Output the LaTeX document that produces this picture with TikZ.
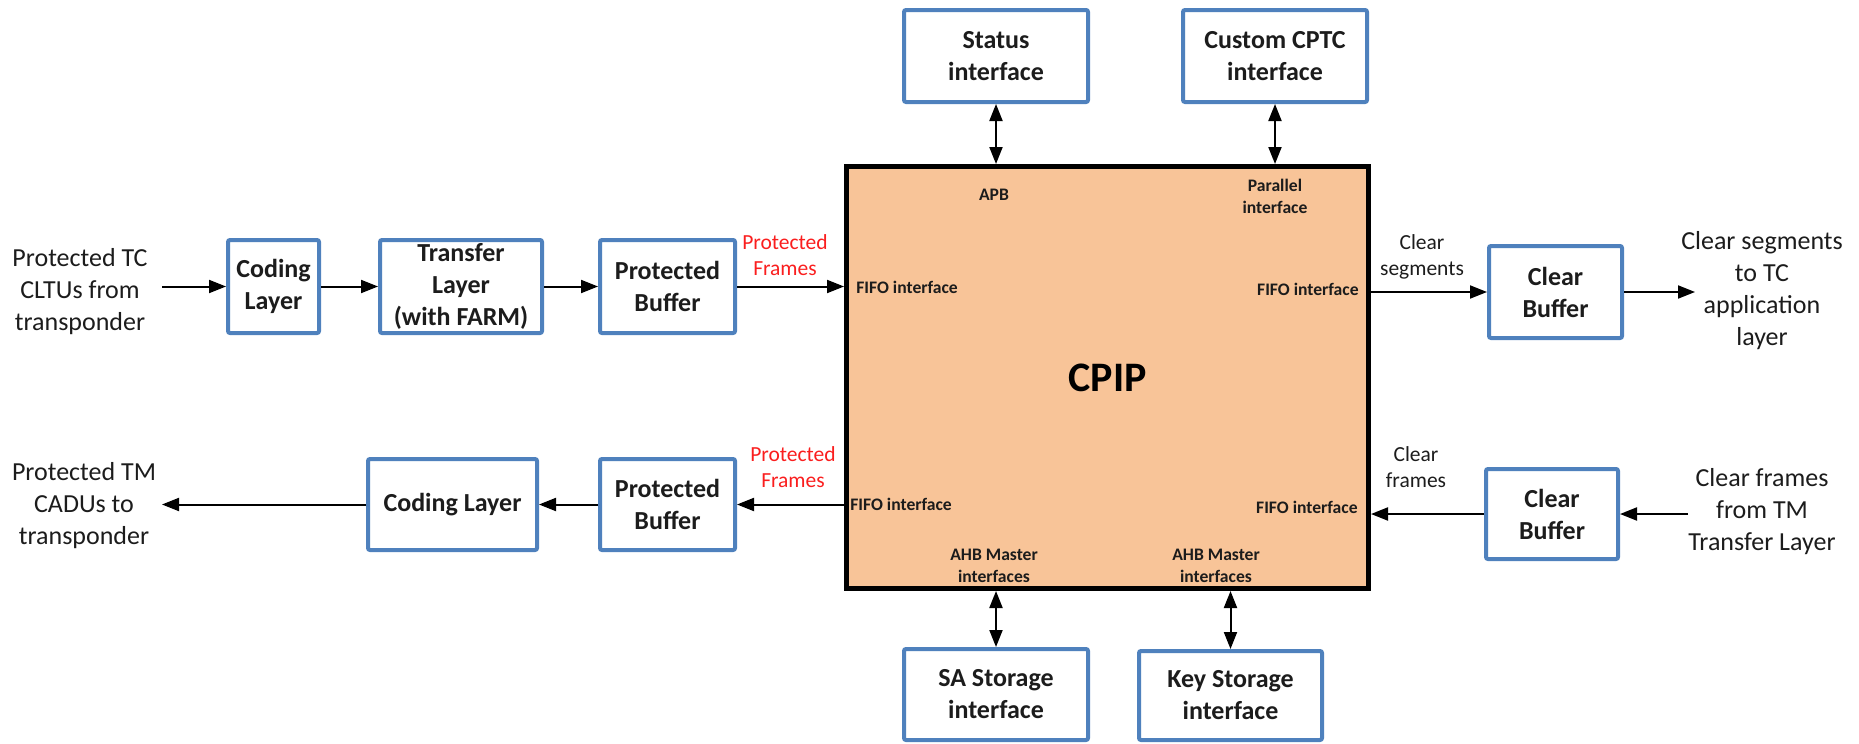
\documentclass[tikz,border=0pt]{standalone}
\usepackage{fontspec}
\setmainfont{Carlito}
\usetikzlibrary{arrows.meta}
\definecolor{boxblue}{RGB}{79,129,189}
\definecolor{cpipfill}{RGB}{248,196,152}
\definecolor{inkgray}{RGB}{28,28,28}
\definecolor{framered}{RGB}{250,30,30}

\begin{document}
\begin{tikzpicture}[x=0.5pt,y=-0.5pt,
  blockbox/.style={draw=boxblue, line width=2pt, fill=white, rounded corners=1pt,
    align=center, inner sep=0pt, text=inkgray,
    font=\bfseries\fontsize{13}{16}\selectfont},
  corebox/.style={draw=black, line width=2.5pt, fill=cpipfill, inner sep=0pt,
    text=black, font=\bfseries\fontsize{21}{25}\selectfont},
  portlabel/.style={align=center, inner sep=0pt, text=inkgray,
    font=\bfseries\fontsize{8.8}{11}\selectfont},
  sidetext/.style={align=center, inner sep=0pt, text=inkgray,
    font=\fontsize{13}{16}\selectfont},
  flowlabel/.style={align=center, inner sep=0pt, text=inkgray,
    font=\fontsize{10.75}{13}\selectfont},
  flow/.style={draw=black, line width=1pt, -{Triangle[length=8.5pt,width=6.5pt]}},
  biflow/.style={draw=black, line width=1pt,
    {Triangle[length=8.5pt,width=6.5pt]}-{Triangle[length=8.5pt,width=6.5pt]}}
]
\useasboundingbox (0,0) rectangle (1859,744);

% central processor block
\node[corebox, minimum width=261pt, minimum height=211pt] (cpip) at (1107.5,377.5) {CPIP};

% interface labels inside the core
\node[portlabel] (apb) at (994,195) {APB};
\node[portlabel] (par) at (1275,196) {Parallel\\interface};
\node[portlabel, anchor=west] (fifoTL) at (856,287) {FIFO interface};
\node[portlabel, anchor=east] (fifoTR) at (1359,289) {FIFO interface};
\node[portlabel, anchor=west] (fifoBL) at (850,504) {FIFO interface};
\node[portlabel, anchor=east] (fifoBR) at (1358,507) {FIFO interface};
\node[portlabel] (ahbL) at (994,566) {AHB Master\\interfaces};
\node[portlabel] (ahbR) at (1216,566) {AHB Master\\interfaces};

% TC receive chain
\node[sidetext] (tcin) at (80,292) {Protected TC\\CLTUs from\\transponder};
\node[blockbox, minimum width=45.5pt, minimum height=46.5pt] (codA) at (273.5,286.5) {Coding\\Layer};
\node[blockbox, minimum width=81pt, minimum height=46.5pt] (transfer) at (461,286.5) {Transfer\\Layer\\(with FARM)};
\node[blockbox, minimum width=67.5pt, minimum height=46.5pt] (pbufA) at (667.5,286.5) {Protected\\Buffer};
\coordinate (tcinR) at (162,286.5);

% TM transmit chain
\node[sidetext] (tmout) at (84,506) {Protected TM\\CADUs to\\transponder};
\node[blockbox, minimum width=84.5pt, minimum height=45.5pt] (codB) at (452.5,504.5) {Coding Layer};
\node[blockbox, minimum width=67.5pt, minimum height=45.5pt] (pbufB) at (667.5,504.5) {Protected\\Buffer};
\coordinate (tmoutR) at (162,504.5);

% clear side
\node[blockbox, minimum width=66.5pt, minimum height=46pt] (cbufA) at (1555.5,292) {Clear\\Buffer};
\node[sidetext] (tcout) at (1762,290.5) {Clear segments\\to TC\\application\\layer};
\coordinate (tcoutL) at (1695,292);
\node[blockbox, minimum width=66pt, minimum height=45pt] (cbufB) at (1552,514) {Clear\\Buffer};
\node[sidetext] (tmin) at (1762,512) {Clear frames\\from TM\\Transfer Layer};
\coordinate (tminL) at (1688,514);

% bus interfaces
\node[blockbox, minimum width=92pt, minimum height=46pt] (status) at (996,56) {Status\\interface};
\node[blockbox, minimum width=92pt, minimum height=46pt] (cptc) at (1275,56) {Custom CPTC\\interface};
\node[blockbox, minimum width=92pt, minimum height=45.5pt] (sa) at (996,694.5) {SA Storage\\interface};
\node[blockbox, minimum width=91.5pt, minimum height=44.5pt] (key) at (1230.5,695.5) {Key Storage\\interface};

% flow labels
\node[flowlabel, text=framered] (pfA) at (785,255.5) {Protected\\Frames};
\node[flowlabel, text=framered] (pfB) at (793,467) {Protected\\Frames};
\node[flowlabel] (csl) at (1422,256.5) {Clear\\segments};
\node[flowlabel] (cfl) at (1416,467) {Clear\\frames};

% connectors: TC path
\draw[flow] (tcinR) -- (codA);
\draw[flow] (codA) -- (transfer);
\draw[flow] (transfer) -- (pbufA);
\draw[flow] (pbufA.east) -- (pbufA.east -| cpip.west);
\draw[flow] (cpip.east |- cbufA.west) -- (cbufA.west);
\draw[flow] (cbufA.east) -- (tcoutL);

% connectors: TM path
\draw[flow] (tminL) -- (cbufB.east);
\draw[flow] (cbufB.west) -- (cbufB.west -| cpip.east);
\draw[flow] (pbufB.east -| cpip.west) -- (pbufB.east);
\draw[flow] (pbufB) -- (codB);
\draw[flow] (codB.west) -- (tmoutR);

% connectors: bus interfaces
\draw[biflow] (status.south) -- (status.south |- cpip.north);
\draw[biflow] (cptc.south) -- (cptc.south |- cpip.north);
\draw[biflow] (sa.north |- cpip.south) -- (sa.north);
\draw[biflow] (key.north |- cpip.south) -- (key.north);
\end{tikzpicture}
\end{document}
